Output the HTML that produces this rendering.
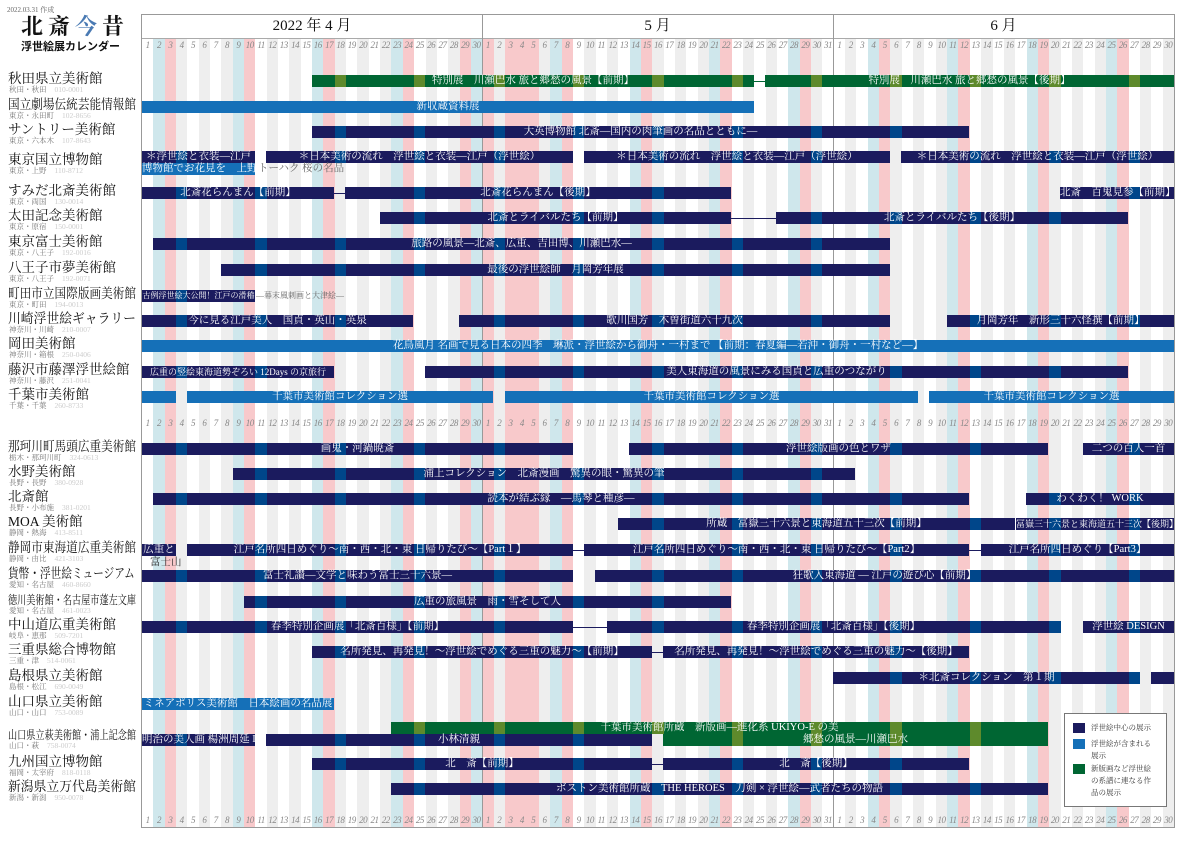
<!DOCTYPE html>
<html><head><meta charset="utf-8">
<style>
html,body{margin:0;padding:0;background:#fff;}
body{width:1191px;height:842px;position:relative;overflow:hidden;font-family:"Liberation Serif","Noto Serif CJK SC","Noto Serif CJK JP",serif;}
.a{position:absolute;}
.dn{position:absolute;font-size:9px;font-style:italic;color:#888;text-align:center;width:11.34px;letter-spacing:-0.5px;}
.bar{position:absolute;height:12px;color:#fff;font-size:10.5px;line-height:12px;text-align:center;white-space:nowrap;overflow:visible;}
.bar span{position:relative;z-index:3;}
.nm{position:absolute;left:8px;font-size:13.5px;color:#111;white-space:nowrap;line-height:14px;transform-origin:0 50%;}
.sb{position:absolute;left:9px;font-size:7.5px;color:#777;white-space:nowrap;line-height:8px;}
.sb i{font-style:normal;color:#ccc;margin-left:8px;}
</style></head><body>
<div class="a" style="left:7px;top:5px;font-size:7px;color:#666;">2022.03.31 作成</div>
<div class="a" style="left:21px;top:15px;font-size:22px;letter-spacing:5px;color:#111;line-height:24px;font-weight:bold;">北斎<span style="color:#4a7ab3">今</span>昔</div>
<div class="a" style="left:21px;top:40px;font-size:11px;font-weight:bold;color:#111;font-family:'Noto Sans CJK JP',sans-serif;line-height:12px;">浮世絵展カレンダー</div>
<div id="c"></div>
<script>
var c=document.getElementById('c');var h='';
var X0=142,W=11.34;
function x(i){return X0+i*W;}
var sat=['4-2','4-9','4-16','4-23','4-30','5-7','5-14','5-21','5-28','6-4','6-11','6-18','6-25'];
var sun=['4-3','4-10','4-17','4-24','4-29','5-1','5-3','5-4','5-5','5-8','5-15','5-22','5-29','6-5','6-12','6-19','6-26'];
var days=[];for(var d=1;d<=30;d++)days.push([4,d]);for(d=1;d<=31;d++)days.push([5,d]);for(d=1;d<=30;d++)days.push([6,d]);
days.forEach(function(md,i){var k=md[0]+'-'+md[1];var col='#fff';
 if(sat.indexOf(k)>=0)col='#cfe7ec';else if(sun.indexOf(k)>=0)col='#f8c9cb';else if(md[1]%2==0)col='#eeeeee';
 h+='<div class="a" style="left:'+x(i).toFixed(2)+'px;top:38px;width:'+(W+0.3).toFixed(2)+'px;height:789px;background:'+col+'"></div>';
 [40,418,815].forEach(function(y){h+='<div class="dn" style="left:'+x(i).toFixed(2)+'px;top:'+y+'px">'+md[1]+'</div>';});
});
var mon=[3,10,17,24,31,38,45,52,59,66,73,80,87];
h+='<div class="a" style="left:141px;top:14px;width:1032px;height:812px;border:1px solid #999;z-index:1;pointer-events:none"></div>';
h+='<div class="a" style="left:142px;top:14px;width:1032px;height:24px;background:#fff;border-bottom:1px solid #aaa;"></div>';
h+='<div class="a" style="left:482px;top:14px;width:1px;height:813px;background:#999;z-index:2"></div>';
h+='<div class="a" style="left:833px;top:14px;width:1px;height:813px;background:#999;z-index:2"></div>';
h+='<div class="a" style="left:142px;top:15px;width:340px;text-align:center;font-size:15px;line-height:22px;color:#111">2022 年 4 月</div>';
h+='<div class="a" style="left:482px;top:15px;width:351px;text-align:center;font-size:15px;line-height:22px;color:#111">5 月</div>';
h+='<div class="a" style="left:833px;top:15px;width:341px;text-align:center;font-size:15px;line-height:22px;color:#111">6 月</div>';
var D='#1b1b5e',L='#1570b8',G='#006633';
function bar(y,x1,x2,col,t,fs){
 var s='<div class="bar" style="left:'+x1+'px;top:'+(y-6)+'px;width:'+(x2-x1)+'px;background:'+col+';z-index:2;'+(fs?'font-size:'+fs+'px;':'')+'">';
 if(col!=L){mon.forEach(function(i){var mx=x(i);if(mx>=x1&&mx+W<=x2+1)s+='<div class="a" style="left:'+(mx-x1).toFixed(2)+'px;top:0;width:'+W+'px;height:12px;background:'+(col==G?'#5e8a2c':'#00468a')+'"></div>';});}
 s+='<span>'+(t||'')+'</span></div>';h+=s;}
function ln(y,x1,x2,col){h+='<div class="a" style="left:'+x1+'px;top:'+y+'px;width:'+(x2-x1)+'px;height:1px;background:'+(col||D)+';z-index:2"></div>';}
function tx(y,x1,t,fs,col){h+='<div class="a" style="left:'+x1+'px;top:'+(y-6)+'px;font-size:'+(fs||10.5)+'px;line-height:12px;color:'+(col||'#666')+';white-space:nowrap;z-index:2">'+t+'</div>';}
bar(81,312,754,G,'特別展　川瀬巴水 旅と郷愁の風景【前期】');ln(81,754,765,G);bar(81,765,1174,G,'特別展　川瀬巴水 旅と郷愁の風景【後期】');
bar(107,142,754,L,'新収蔵資料展');
bar(132,312,969,D,'大英博物館 北斎—国内の肉筆画の名品とともに—');
bar(157,142,255,D,'＊浮世絵と衣装—江戸');bar(157,266,573,D,'＊日本美術の流れ　浮世絵と衣装—江戸（浮世絵）');bar(157,584,890,D,'＊日本美術の流れ　浮世絵と衣装—江戸（浮世絵）');bar(157,901,1174,D,'＊日本美術の流れ　浮世絵と衣装—江戸（浮世絵）');
bar(169,142,255,L,'博物館でお花見を　上野');tx(169,258,'トーハク 桜の名品');
bar(193,142,334,D,'北斎花らんまん【前期】');ln(193,334,345);bar(193,345,731,D,'北斎花らんまん【後期】');bar(193,1060,1174,D,'北斎　百鬼見参【前期】');
bar(218,380,731,D,'北斎とライバルたち【前期】');ln(218,731,776);bar(218,776,1128,D,'北斎とライバルたち【後期】');
bar(244,153,890,D,'旅路の風景—北斎、広重、吉田博、川瀬巴水—');
bar(270,221,890,D,'最後の浮世絵師　月岡芳年展');
bar(296,142,255,D,'古例浮世絵大公開！江戸の滑稽',8);tx(296,256,'—幕末風刺画と大津絵—',8);
bar(321,142,413,D,'今に見る江戸美人　国貞・英山・英泉');bar(321,459,890,D,'歌川国芳　木曽街道六十九次');bar(321,947,1174,D,'月岡芳年　新形三十六怪撰【前期】');
bar(346,142,1174,L,'花鳥風月 名画で見る日本の四季　琳派・浮世絵から御舟・一村まで 【前期：春夏編—若沖・御舟・一村など—】');
bar(372,142,334,D,'広重の竪絵東海道勢ぞろい 12Days の京旅行',9);bar(372,425,1128,D,'美人東海道の風景にみる国貞と広重のつながり');
bar(397,142,176,L,'');bar(397,187,493,L,'千葉市美術館コレクション選');bar(397,505,918,L,'千葉市美術館コレクション選');bar(397,929,1174,L,'千葉市美術館コレクション選');
bar(449,142,573,D,'画鬼・河鍋暁斎');bar(449,629,1048,D,'浮世絵版画の色とワザ');bar(449,1083,1174,D,'二つの百人一首');
bar(474,233,855,D,'浦上コレクション　北斎漫画　驚異の眼・驚異の筆');
bar(499,153,969,D,'読本が結ぶ縁　—馬琴と種彦—');bar(499,1026,1174,D,'わくわく！ WORK');
bar(524,618,1015,D,'所蔵　冨嶽三十六景と東海道五十三次【前期】');bar(524,1016,1174,D,'冨嶽三十六景と東海道五十三次【後期】',9);
bar(550,142,176,D,'広重と');tx(563,150,'富士山',10.5,'#333');bar(550,187,573,D,'江戸名所四日めぐり〜南・西・北・東 日帰りたび〜【Part１】');ln(550,573,584);bar(550,584,969,D,'江戸名所四日めぐり〜南・西・北・東 日帰りたび〜【Part2】');ln(550,969,981);bar(550,981,1174,D,'江戸名所四日めぐり【Part3】');
bar(576,142,573,D,'富士礼讃—文学と味わう冨士三十六景—');bar(576,595,1174,D,'狂歌入東海道 — 江戸の遊び心【前期】');
bar(602,244,731,D,'広重の旅風景　雨・雪そして人');
bar(627,142,573,D,'春季特別企画展「北斎百様」【前期】');ln(627,573,607);bar(627,607,1060,D,'春季特別企画展「北斎百様」【後期】');bar(627,1083,1174,D,'浮世絵 DESIGN');
bar(652,312,652,D,'名所発見、再発見！〜浮世絵でめぐる三重の魅力〜【前期】');ln(652,652,663);bar(652,663,969,D,'名所発見、再発見！〜浮世絵でめぐる三重の魅力〜【後期】');
bar(678,833,1140,D,'＊北斎コレクション　第１期');bar(678,1151,1174,D,'');
bar(704,142,334,L,'ミネアポリス美術館　日本絵画の名品展');
bar(728,391,1048,G,'千葉市美術館所蔵　新版画—進化系 UKIYO-E の美');
bar(740,142,255,D,'明治の美人画 楊洲周延 II');bar(740,266,652,D,'小林清親');bar(740,663,1048,G,'郷愁の風景—川瀬巴水');
bar(764,312,652,D,'北　斎【前期】');ln(764,652,663);bar(764,663,969,D,'北　斎【後期】');
bar(789,391,1048,D,'ボストン美術館所蔵　THE HEROES　刀剣 × 浮世絵—武者たちの物語');
var labs=[[81,'秋田県立美術館','秋田・秋田','010-0001'],[107,'国立劇場伝統芸能情報館','東京・永田町','102-8656'],[132,'サントリー美術館','東京・六本木','107-8643'],[162,'東京国立博物館','東京・上野','110-8712'],[193,'すみだ北斎美術館','東京・両国','130-0014'],[218,'太田記念美術館','東京・原宿','150-0001'],[244,'東京富士美術館','東京・八王子','192-0016'],[270,'八王子市夢美術館','東京・八王子','192-0071'],[296,'町田市立国際版画美術館','東京・町田','194-0013'],[321,'川崎浮世絵ギャラリー','神奈川・川崎','210-0007'],[346,'岡田美術館','神奈川・箱根','250-0406'],[372,'藤沢市藤澤浮世絵館','神奈川・藤沢','251-0041'],[397,'千葉市美術館','千葉・千葉','260-8733'],[449,'那珂川町馬頭広重美術館','栃木・那珂川町','324-0613'],[474,'水野美術館','長野・長野','380-0928'],[499,'北斎館','長野・小布施','381-0201'],[524,'MOA 美術館','静岡・熱海','413-8511'],[550,'静岡市東海道広重美術館','静岡・由比','421-3103'],[576,'貨幣・浮世絵ミュージアム','愛知・名古屋','460-8660'],[602,'徳川美術館・名古屋市蓬左文庫','愛知・名古屋','461-0023'],[627,'中山道広重美術館','岐阜・恵那','509-7201'],[652,'三重県総合博物館','三重・津','514-0061'],[678,'島根県立美術館','島根・松江','690-0049'],[704,'山口県立美術館','山口・山口','753-0089'],[737,'山口県立萩美術館・浦上記念館','山口・萩','758-0074'],[764,'九州国立博物館','福岡・太宰府','818-0118'],[789,'新潟県立万代島美術館','新潟・新潟','950-0078']];
labs.forEach(function(l){var fs=13.5,sc=Math.min(1,128/(l[1].length*13.5));if(l[1].length>=13){fs=12;sc=Math.min(1,128/(l[1].length*12));}
 h+='<div class="nm" style="top:'+(l[0]-9)+'px;font-size:'+fs+'px;transform:scaleX('+sc.toFixed(3)+')">'+l[1]+'</div><div class="sb" style="top:'+(l[0]+5)+'px">'+l[2]+'<i>'+l[3]+'</i></div>';});
h+='<div class="a" style="left:1064px;top:713px;width:101px;height:92px;border:1px solid #777;background:#fff;z-index:4;font-size:7.5px;color:#333;line-height:12px;">'+
'<div class="a" style="left:8px;top:9px;width:12px;height:10px;background:'+D+'"></div><div class="a" style="left:26px;top:8px">浮世絵中心の展示</div>'+
'<div class="a" style="left:8px;top:25px;width:12px;height:10px;background:'+L+'"></div><div class="a" style="left:26px;top:24px;width:70px">浮世絵が含まれる<br>展示</div>'+
'<div class="a" style="left:8px;top:50px;width:12px;height:10px;background:'+G+'"></div><div class="a" style="left:26px;top:49px;width:72px">新版画など浮世絵<br>の系譜に連なる作<br>品の展示</div></div>';
c.innerHTML=h;
</script>
</body></html>
